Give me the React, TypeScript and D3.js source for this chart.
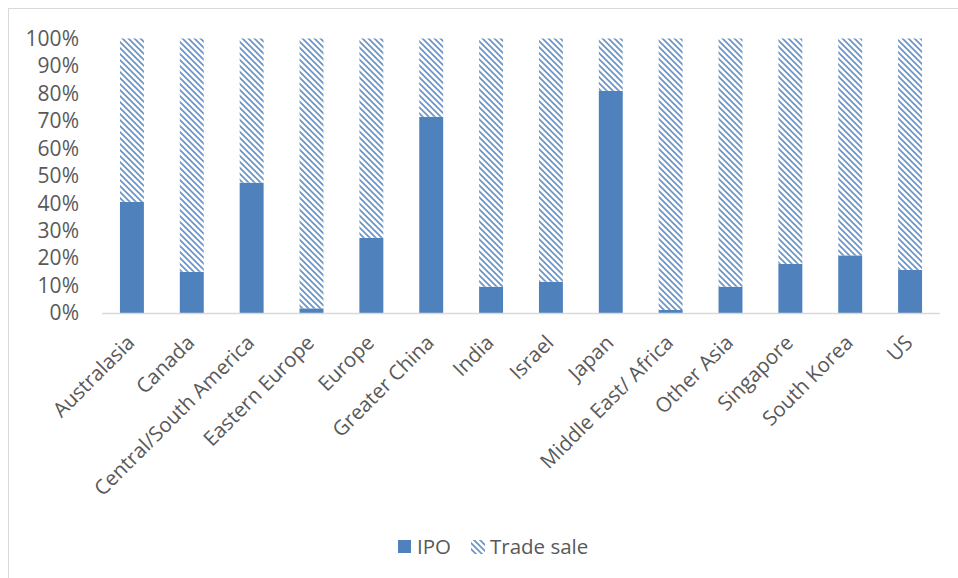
import React from "react";
import * as d3 from "d3";

const categories = [
  "Australasia",
  "Canada",
  "Central/South America",
  "Eastern Europe",
  "Europe",
  "Greater China",
  "India",
  "Israel",
  "Japan",
  "Middle East/ Africa",
  "Other Asia",
  "Singapore",
  "South Korea",
  "US",
];
const ipoValues = [40.5, 15, 47.5, 1.7, 27.4, 71.5, 9.6, 11.4, 80.9, 1.1, 9.6, 17.9, 21, 15.7];
const tradeSaleValues = ipoValues.map((v) => 100 - v);
const yTicks = [0, 10, 20, 30, 40, 50, 60, 70, 80, 90, 100];

const W = 958;
const H = 578;
const FONT = "'Open Sans', 'DejaVu Sans', sans-serif";
const BLUE = "#4f81bd";
const TEXT = "#595959";

export default function App() {
  const x = d3
    .scaleBand<string>()
    .domain(categories)
    .range([102, 940])
    .paddingInner(0.6)
    .paddingOuter(0.3);
  const y = d3.scaleLinear().domain([0, 100]).range([313, 38.5]);

  return (
    <svg
      width={W}
      height={H}
      style={{ position: "absolute", left: 0, top: 0, background: "#fff" }}
    >
      <defs>
        <pattern id="hatch" patternUnits="userSpaceOnUse" width={6} height={6}>
          <rect width={6} height={6} fill="#fff" />
          <path
            d="M0,0 L6,6 M-1,5 L1,7 M5,-1 L7,1"
            stroke={BLUE}
            strokeWidth={1.7}
            strokeOpacity={0.85}
          />
        </pattern>
      </defs>
      <rect x={8.5} y={8.5} width={1000} height={1000} fill="#fff" stroke="#d9d9d9" />

      {/* Y tick labels */}
      {yTicks.map((t) => (
        <text
          key={t}
          x={79}
          y={y(t)}
          dy="0.35em"
          textAnchor="end"
          fontFamily={FONT}
          fontSize={21}
          fill={TEXT}
        >
          {t}%
        </text>
      ))}

      {/* Bars */}
      {categories.map((c, i) => {
        const bx = x(c)!;
        const bw = x.bandwidth();
        return (
          <g key={c}>
            <rect
              x={bx}
              y={y(ipoValues[i])}
              width={bw}
              height={y(0) - y(ipoValues[i])}
              fill={BLUE}
            />
            <rect
              x={bx}
              y={y(ipoValues[i] + tradeSaleValues[i])}
              width={bw}
              height={y(ipoValues[i]) - y(ipoValues[i] + tradeSaleValues[i])}
              fill="url(#hatch)"
            />
          </g>
        );
      })}

      {/* X axis line */}
      <line x1={102} x2={940} y1={313.5} y2={313.5} stroke="#d9d9d9" strokeWidth={1.3} />

      {/* X labels */}
      {categories.map((c) => {
        const cx = x(c)! + x.bandwidth() / 2;
        return (
          <text
            key={c}
            transform={`translate(${cx + 4},${344}) rotate(-45)`}
            textAnchor="end"
            fontFamily={FONT}
            fontSize={20.5}
            fill={TEXT}
          >
            {c}
          </text>
        );
      })}

      {/* Legend */}
      <rect x={398} y={540} width={13} height={13} fill={BLUE} />
      <text x={417} y={554} fontFamily={FONT} fontSize={20.5} fill={TEXT}>
        IPO
      </text>
      <rect x={471} y={540} width={14} height={14} fill="url(#hatch)" />
      <text x={490} y={554} fontFamily={FONT} fontSize={20.5} fill={TEXT}>
        Trade sale
      </text>
    </svg>
  );
}
